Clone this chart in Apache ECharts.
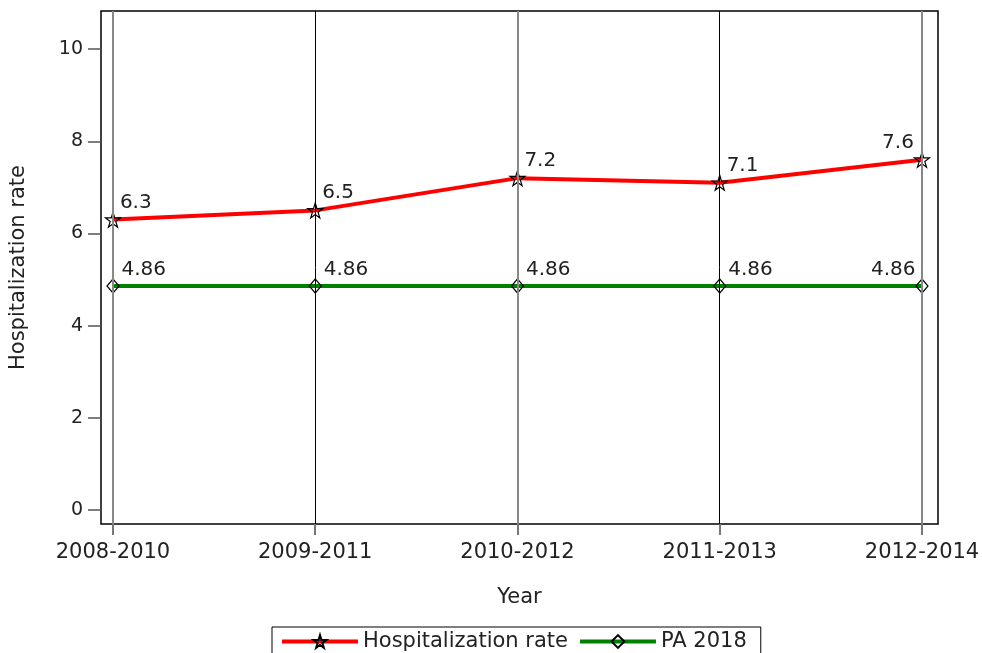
<!DOCTYPE html>
<html>
<head>
<meta charset="utf-8">
<script src="https://cdn.jsdelivr.net/npm/echarts@6/dist/echarts.min.js"></script>
<style>
  html, body { margin: 0; padding: 0; background: #fff; }
  #chart { width: 982px; height: 653px; }
</style>
</head>
<body>
<div id="chart"></div>
<script>
const categories = ['2008-2010', '2009-2011', '2010-2012', '2011-2013', '2012-2014'];
const hospRate = [6.3, 6.5, 7.2, 7.1, 7.6];
const pa2018 = [4.86, 4.86, 4.86, 4.86, 4.86];
const yTicks = [0, 2, 4, 6, 8, 10];
const xTicks = [0, 1, 2, 3, 4];

const font = 'DejaVu Sans';
const textColor = '#222';
const star = 'path://M50,0 L61,35 L98,35 L68,57 L79,91 L50,70 L21,91 L32,57 L2,35 L39,35 Z';

function toPoints(values) {
  return values.map((v, i) => {
    const p = { value: [i, v] };
    if (i === values.length - 1) {
      p.label = { position: [0, -19], align: 'right' };
    }
    return p;
  });
}

const labelStyle = {
  show: true,
  position: [15, -19],
  fontFamily: font,
  fontSize: 20,
  color: textColor
};

let chart = echarts.init(document.getElementById('chart'));
let option = {
  animation: false,
  textStyle: { fontFamily: font, color: textColor },
  grid: {
    left: 101, right: 44, top: 11, bottom: 129,
    outerBoundsMode: 'none',
    containLabel: false,
    show: true, borderColor: '#000', borderWidth: 1.5
  },
  legend: {
    data: [
      { name: 'Hospitalization rate', lineStyle: { width: 4, color: '#ff0000' } },
      { name: 'PA 2018', lineStyle: { width: 4, color: '#008000' } }
    ],
    left: 272, top: 627,
    padding: [4, 14, 6, 8],
    borderColor: '#000', borderWidth: 1,
    itemWidth: 76, itemHeight: 16, itemGap: 10,
    textStyle: { fontFamily: font, fontSize: 21, color: textColor }
  },
  xAxis: {
    type: 'value',
    min: -0.0593, max: 4.0791,
    name: 'Year', nameLocation: 'middle', nameGap: 63,
    nameMoveOverlap: false,
    nameTextStyle: { fontFamily: font, fontSize: 21, color: textColor },
    axisLine: { show: false, onZero: false },
    splitLine: { show: false },
    axisTick: { show: true, customValues: xTicks, length: 11, lineStyle: { color: '#777', width: 2 } },
    axisLabel: {
      customValues: xTicks, margin: 18,
      fontFamily: font, fontSize: 21, color: textColor,
      formatter: v => categories[Math.round(v)]
    }
  },
  yAxis: {
    type: 'value',
    min: -0.304, max: 10.826,
    name: 'Hospitalization rate', nameLocation: 'middle', nameGap: 72,
    nameMoveOverlap: false,
    nameTextStyle: { fontFamily: font, fontSize: 21, color: textColor },
    axisLine: { show: false, onZero: false },
    splitLine: { show: false },
    axisTick: { show: true, customValues: yTicks, length: 13, lineStyle: { color: '#555', width: 1.5 } },
    axisLabel: { customValues: yTicks, margin: 18, fontFamily: font, fontSize: 19, color: textColor }
  },
  series: [
    {
      name: 'grid lines',
      type: 'line',
      data: [],
      silent: true,
      z: 1,
      markLine: {
        silent: true,
        symbol: 'none',
        label: { show: false },
        data: xTicks.map(v => ({
          xAxis: v,
          lineStyle: v % 2 === 0
            ? { color: '#888', width: 2, type: 'solid' }
            : { color: '#000', width: 1, type: 'solid' }
        }))
      }
    },
    {
      name: 'Hospitalization rate',
      type: 'line',
      z: 3,
      data: toPoints(hospRate),
      symbol: star,
      symbolSize: 15,
      lineStyle: { color: '#ff0000', width: 4 },
      itemStyle: { color: 'rgba(0,0,0,0)', borderColor: '#000', borderWidth: 1.2 },
      label: labelStyle
    },
    {
      name: 'PA 2018',
      type: 'line',
      z: 3,
      data: toPoints(pa2018),
      symbol: 'diamond',
      symbolSize: [12, 14],
      lineStyle: { color: '#008000', width: 4 },
      itemStyle: { color: 'rgba(0,0,0,0)', borderColor: '#000', borderWidth: 1.2 },
      label: labelStyle
    }
  ]
};
chart.setOption(option);
</script>
</body>
</html>
